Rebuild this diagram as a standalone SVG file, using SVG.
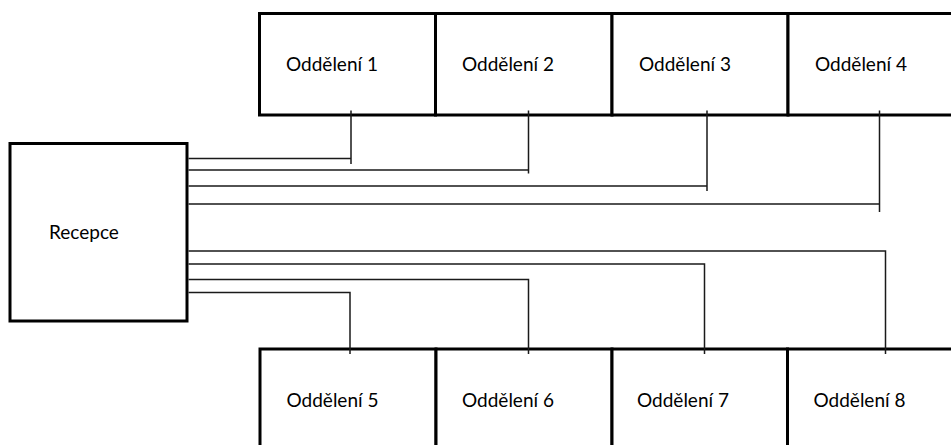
<svg xmlns="http://www.w3.org/2000/svg" width="951" height="445" viewBox="0 0 951 445">
<style>
.box{fill:#fff;stroke:#000;stroke-width:3}
.lbl{font-family:Lato,"Open Sans","Liberation Sans",sans-serif;font-size:19px;fill:#000}
.wire{fill:none;stroke:#1a1a1a;stroke-width:1.5}
</style>
<rect width="951" height="445" fill="#fff"/>
<g id="recepce"><rect class="box" x="10" y="143.5" width="177" height="177.5"/><text class="lbl" x="49" y="239">Recepce</text></g>
<g id="odd1"><rect class="box" x="259.5" y="13.5" width="176" height="101.5"/><text class="lbl" x="286" y="70.5">Oddělení 1</text></g>
<g id="odd2"><rect class="box" x="435.5" y="13.5" width="176.5" height="101.5"/><text class="lbl" x="462" y="70.5">Oddělení 2</text></g>
<g id="odd3"><rect class="box" x="612" y="13.5" width="176" height="101.5"/><text class="lbl" x="639" y="70.5">Oddělení 3</text></g>
<g id="odd4"><rect class="box" x="788" y="13.5" width="176" height="101.5"/><text class="lbl" x="815" y="70.5">Oddělení 4</text></g>
<g id="odd5"><rect class="box" x="260" y="349" width="176" height="102"/><text class="lbl" x="286.5" y="406.5">Oddělení 5</text></g>
<g id="odd6"><rect class="box" x="436" y="349" width="176" height="102"/><text class="lbl" x="462" y="406.5">Oddělení 6</text></g>
<g id="odd7"><rect class="box" x="612" y="349" width="175.5" height="102"/><text class="lbl" x="637" y="406.5">Oddělení 7</text></g>
<g id="odd8"><rect class="box" x="787.5" y="349" width="176" height="102"/><text class="lbl" x="813.5" y="406.5">Oddělení 8</text></g>
<g id="connectors">
<path class="wire" d="M188.5 158.5H351M351 110.5V164"/>
<path class="wire" d="M188.5 170H528.5M528.5 110.5V173.5"/>
<path class="wire" d="M188.5 186H707M707 110.5V191"/>
<path class="wire" d="M188.5 204H879.5M879.5 110.5V212"/>
<path class="wire" d="M188.5 251H885.5V354"/>
<path class="wire" d="M188.5 264H704.5V354"/>
<path class="wire" d="M188.5 279.5H528.5V354"/>
<path class="wire" d="M188.5 292.5H350V354"/>
</g>
</svg>
